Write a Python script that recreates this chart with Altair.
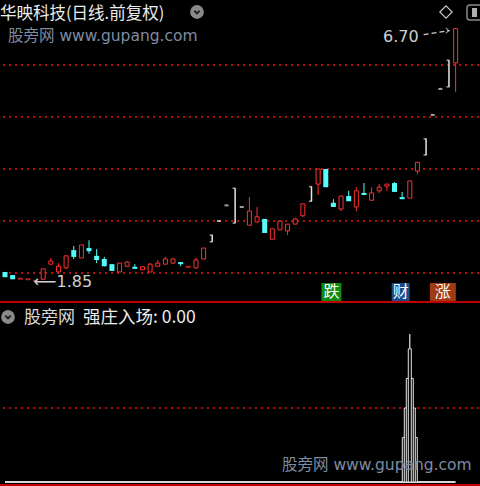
import altair as alt
import pandas as pd

# ---- daily candles, forward-adjusted, oldest first ----
opens = [2.02, 1.96, 1.89, 1.88, 1.85, 1.88, 2.17, 2.02, 2.10, 2.44,
         2.29, 2.48, 2.33, 2.27, 2.17, 2.02, 2.13, 2.12, 2.06, 2.02,
         2.13, 2.17, 2.19, 2.21, 2.12, 2.10, 2.27, 2.60, 3.00, 3.30,
         2.96, 3.27, 2.92, 2.98, 3.04, 2.65, 2.83, 2.81, 2.94, 3.10,
         3.38, 3.71, 4.00, 3.35, 3.23, 3.48, 3.27, 3.54, 3.40, 3.58,
         3.67, 3.73, 3.46, 3.44, 3.96, 4.27, 5.04, 5.54, 5.58, 6.04]
highs = [2.02, 1.96, 1.89, 1.88, 1.85, 2.08, 2.29, 2.19, 2.33, 2.52,
         2.54, 2.63, 2.46, 2.31, 2.17, 2.19, 2.23, 2.17, 2.13, 2.19,
         2.25, 2.31, 2.29, 2.21, 2.12, 2.29, 2.48, 2.73, 3.00, 3.30,
         3.63, 3.27, 3.46, 3.27, 3.04, 2.85, 3.00, 2.94, 3.06, 3.33,
         3.66, 4.00, 4.00, 3.42, 3.48, 3.58, 3.65, 3.73, 3.65, 3.71,
         3.71, 3.75, 3.56, 3.77, 4.13, 4.58, 5.04, 5.54, 6.09, 6.70]
lows = [1.92, 1.88, 1.89, 1.88, 1.85, 1.88, 2.17, 2.02, 2.08, 2.27,
        2.29, 2.37, 2.19, 2.13, 2.04, 2.02, 2.12, 2.08, 2.06, 2.02,
        2.13, 2.17, 2.17, 2.13, 2.12, 2.08, 2.27, 2.60, 3.00, 3.30,
        2.96, 3.27, 2.92, 2.98, 2.77, 2.65, 2.83, 2.73, 2.94, 3.08,
        3.38, 3.50, 3.65, 3.27, 3.19, 3.38, 3.19, 3.50, 3.40, 3.54,
        3.58, 3.56, 3.42, 3.44, 3.90, 4.27, 5.04, 5.54, 5.58, 5.48]
closes = [1.92, 1.88, 1.89, 1.88, 1.85, 2.08, 2.23, 2.13, 2.33, 2.31,
          2.54, 2.42, 2.25, 2.13, 2.04, 2.19, 2.21, 2.08, 2.12, 2.17,
          2.19, 2.27, 2.27, 2.17, 2.12, 2.25, 2.48, 2.73, 3.00, 3.30,
          3.63, 3.27, 3.19, 3.08, 2.77, 2.85, 3.00, 2.94, 3.04, 3.33,
          3.66, 4.00, 3.65, 3.27, 3.48, 3.38, 3.58, 3.50, 3.54, 3.65,
          3.71, 3.56, 3.42, 3.77, 4.13, 4.58, 5.04, 5.54, 6.09, 6.70]
# sessions that finished at the daily price limit
limit_days = [27, 28, 29, 30, 31, 40, 55, 56, 57, 58]

# price grid levels of the upper pane
grid_prices = [2, 3, 4, 5, 6]

# "强庄入场" indicator: flat line plus a stepped signal column
entry_values = [0.0] * 60
signal_day = 53
signal_steps = [0.6, 1.0, 1.4, 1.8, 2.0]
lower_grid = [1.0]

# event badges under the candles: (label, day)
badges = [("跌", 43), ("财", 52), ("涨", 57)]

RED = "#ff3030"
CYAN = "#54fcfc"
WHITE = "#e6e6e6"
DOT_RED = "#b01010"
MARK_FONT = "DejaVu Sans, Noto Sans CJK SC"
CJK_FONT = "Noto Sans CJK SC"

n = len(opens)
df = pd.DataFrame({"day": list(range(n)), "open": opens, "high": highs,
                   "low": lows, "close": closes})
df["limit"] = df["day"].isin(limit_days)


def kind(r):
    if r["limit"]:
        return "limit_flat" if r["open"] == r["close"] else "limit"
    if r["close"] > r["open"]:
        return "up"
    if r["close"] < r["open"]:
        return "down"
    return "flat"


df["kind"] = df.apply(kind, axis=1)

xs = alt.Scale(domain=[0, 480 / 7.8], nice=False, zero=False)
price_scale = alt.Scale(domain=[-2.096, 7.25], nice=False, zero=False)
ind_scale = alt.Scale(domain=[-0.054, 6.514], nice=False, zero=False)


def X(field="day"):
    return alt.X(f"{field}:Q", scale=xs, axis=None)


def P(field):
    return alt.Y(f"{field}:Q", scale=price_scale, axis=None)


def P2(field):
    return alt.Y2(f"{field}:Q")


def I(field):
    return alt.Y(f"{field}:Q", scale=ind_scale, axis=None)


one = pd.DataFrame({"a": [0]})
base = alt.Chart(df)
layers = []

# dotted price grid
layers.append(alt.Chart(pd.DataFrame({"p": grid_prices})).mark_rule(
    color=DOT_RED, strokeDash=[2, 4], strokeWidth=2).encode(
    y=P("p"), x=alt.value(3), x2=alt.value(480)))

# pane separator and bottom border
for ypix in (302, 485):
    layers.append(alt.Chart(one).mark_rule(color="#c00000", strokeWidth=2).encode(
        y=alt.value(ypix), x=alt.value(0), x2=alt.value(480)))

# wicks
layers.append(base.transform_filter("datum.kind == 'up' || datum.kind == 'flat'").mark_rule(
    color=RED, strokeWidth=1).encode(x=X(), y=P("low"), y2=P2("high")))
layers.append(base.transform_filter("datum.kind == 'down'").mark_rule(
    color=CYAN, strokeWidth=1).encode(x=X(), y=P("low"), y2=P2("high")))

# bodies: hollow red for rising days, solid cyan for falling days
layers.append(base.transform_filter("datum.kind == 'up'").mark_bar(
    width=4, fill="black", stroke=RED, strokeWidth=1).encode(
    x=X(), y=P("open"), y2=P2("close")))
layers.append(base.transform_filter("datum.kind == 'down'").mark_bar(
    width=5, color=CYAN).encode(x=X(), y=P("open"), y2=P2("close")))
layers.append(base.transform_filter("datum.kind == 'flat'").mark_tick(
    orient="horizontal", size=5, thickness=2, color=RED).encode(x=X(), y=P("close")))

# limit sessions in white
layers.append(base.transform_filter("datum.kind == 'limit'").mark_rule(
    color=WHITE, strokeWidth=1.5, xOffset=1).encode(x=X(), y=P("open"), y2=P2("close")))
layers.append(base.transform_filter("datum.kind == 'limit'").mark_tick(
    orient="horizontal", size=3, thickness=1.5, color=WHITE).encode(x=X(), y=P("close")))
layers.append(base.transform_filter("datum.kind == 'limit'").mark_tick(
    orient="horizontal", size=3, thickness=1.5, color=WHITE).encode(x=X(), y=P("open")))
layers.append(base.transform_filter("datum.kind == 'limit_flat'").mark_tick(
    orient="horizontal", size=4, thickness=2, color=WHITE).encode(x=X(), y=P("close")))

# high / low annotations
top = df.loc[df["high"].idxmax()]
bot = df.loc[df["low"].idxmin()]
hi_df = pd.DataFrame({"day": [top["day"]], "p": [top["high"]],
                      "t": [f"{top['high']:.2f}"]})
lo_df = pd.DataFrame({"day": [bot["day"]], "p": [bot["low"]],
                      "t": [f"⟵{bot['low']:.2f}"]})
layers.append(alt.Chart(hi_df).mark_text(
    align="right", baseline="middle", dx=-37, dy=8, font="DejaVu Sans",
    fontSize=16, color="#cfcfcf").encode(x=X(), y=P("p"), text="t:N"))
layers.append(alt.Chart(hi_df).mark_rule(
    color="#cfcfcf", strokeWidth=1.2, strokeDash=[5, 3], xOffset=-32, x2Offset=-6,
    yOffset=6, y2Offset=2).encode(x=X(), x2="day:Q", y=P("p"), y2="p:Q"))
layers.append(alt.Chart(hi_df).mark_point(
    shape="M-1,-1L0,0L-1,1", filled=False, color="#cfcfcf", strokeWidth=1.2,
    size=30, xOffset=-7, yOffset=2).encode(x=X(), y=P("p")))
layers.append(alt.Chart(lo_df).mark_text(
    align="left", baseline="middle", dx=-2, dy=1, font="DejaVu Sans",
    fontSize=16, color="#cfcfcf").encode(x=X(), y=P("p"), text="t:N"))

# badges
badge_style = {"跌": ("#108a10", 20, -2), "财": ("#1a4c8c", 18, -1.5), "涨": ("#a03a10", 26, 2.5)}
for label, day in badges:
    fill, w, off = badge_style[label]
    bdf = pd.DataFrame({"day": [day], "t": [label]})
    layers.append(alt.Chart(bdf).mark_bar(width=w, color=fill, xOffset=off).encode(
        x=X(), y=alt.value(283), y2=alt.value(301)))
    layers.append(alt.Chart(bdf).mark_text(
        font=CJK_FONT, fontSize=16, color="white", baseline="middle",
        xOffset=off).encode(x=X(), y=alt.value(292), text="t:N"))

# ---- lower pane ----
layers.append(alt.Chart(pd.DataFrame({"v": lower_grid})).mark_rule(
    color=DOT_RED, strokeDash=[2, 4], strokeWidth=2).encode(
    y=I("v"), x=alt.value(3), x2=alt.value(480)))
ind_df = pd.DataFrame({"day": list(range(n)), "v": entry_values})
layers.append(alt.Chart(ind_df).mark_line(color="#d8d8d8", strokeWidth=2).encode(
    x=X(), y=I("v")))
step_widths = [15, 11, 7, 3]
for level, w in zip(signal_steps[:-1], step_widths):
    sdf = pd.DataFrame({"day": [signal_day], "v": [level], "z": [0.0]})
    layers.append(alt.Chart(sdf).mark_bar(
        width=w, fill="black", stroke=WHITE, strokeWidth=1).encode(
        x=X(), y=I("v"), y2=alt.Y2("z:Q")))
pk = pd.DataFrame({"day": [signal_day], "v": [signal_steps[-1]], "z": [signal_steps[-2]]})
layers.append(alt.Chart(pk).mark_rule(color=WHITE, strokeWidth=1.2).encode(
    x=X(), y=I("v"), y2=alt.Y2("z:Q")))

# ---- header texts and icons ----
layers.append(alt.Chart(one).mark_text(
    text="华映科技(日线.前复权)", align="left", baseline="middle", font=CJK_FONT,
    fontSize=16.5, color="#ececec").encode(x=alt.value(0), y=alt.value(13.5)))
for (cx, cy) in [(197, 12), (8, 317)]:
    layers.append(alt.Chart(one).mark_point(
        shape="circle", filled=True, color="#8a8a8a", size=190, opacity=1).encode(
        x=alt.value(cx), y=alt.value(cy)))
    layers.append(alt.Chart(one).mark_point(
        shape="M-1,-0.45L0,0.55L1,-0.45", filled=False, color="#202020",
        strokeWidth=2, size=28, opacity=1).encode(x=alt.value(cx), y=alt.value(cy)))
layers.append(alt.Chart(one).mark_point(
    shape="diamond", filled=False, color="#c8c8c8", size=150, strokeWidth=1.2,
    opacity=1).encode(x=alt.value(446), y=alt.value(12)))
layers.append(alt.Chart(one).mark_rect(
    fill="black", stroke="#8a8a8a", strokeWidth=1.5, cornerRadius=3).encode(
    x=alt.value(467), x2=alt.value(486), y=alt.value(5), y2=alt.value(20)))
layers.append(alt.Chart(one).mark_rect(fill="#b0b0b0").encode(
    x=alt.value(472), x2=alt.value(477), y=alt.value(8), y2=alt.value(17)))

for (wx, wy) in [(8, 36), (282, 465)]:
    layers.append(alt.Chart(one).mark_text(
        text="股旁网 www.gupang.com", align="left", baseline="middle", font=MARK_FONT,
        fontSize=15.5, color="#7d8ca3").encode(x=alt.value(wx), y=alt.value(wy)))

layers.append(alt.Chart(one).mark_text(
    text="股旁网", align="left", baseline="middle", font=CJK_FONT,
    fontSize=17, color="#d8d8d8").encode(x=alt.value(24), y=alt.value(318)))
layers.append(alt.Chart(one).mark_text(
    text="强庄入场: 0.00", align="left", baseline="middle", font=CJK_FONT,
    fontSize=17.5, color="#ececec").encode(x=alt.value(83), y=alt.value(318)))

chart = alt.layer(*layers).resolve_scale(y="independent").properties(
    width=480, height=486, background="black", padding=0, autosize="none"
).configure_view(stroke=None)

chart.save("out.html", embed_options={"renderer": "svg", "actions": False})
